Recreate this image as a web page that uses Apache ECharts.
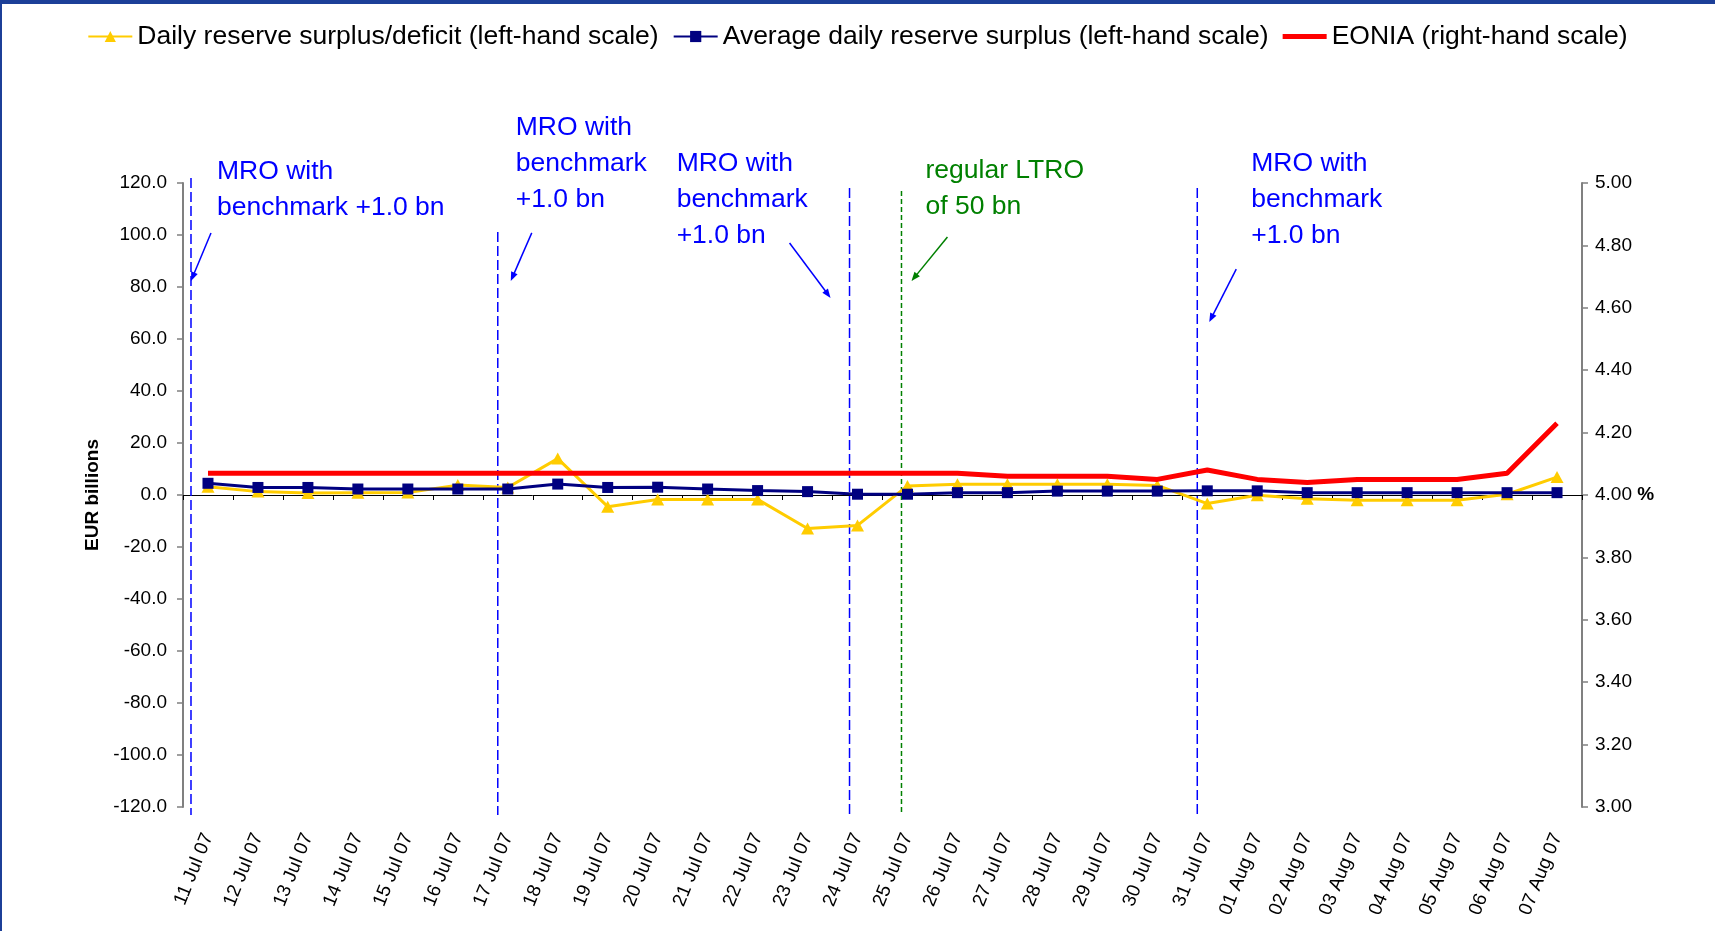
<!DOCTYPE html>
<html>
<head>
<meta charset="utf-8">
<script src="https://cdn.jsdelivr.net/npm/echarts@6/dist/echarts.min.js"></script>
<style>
html,body{margin:0;padding:0;background:#fff;}
#chart{width:1715px;height:931px;}
</style>
</head>
<body>
<div id="chart"></div>
<script>
// ---- data ----
const categories = ['11 Jul 07','12 Jul 07','13 Jul 07','14 Jul 07','15 Jul 07','16 Jul 07','17 Jul 07','18 Jul 07','19 Jul 07','20 Jul 07','21 Jul 07','22 Jul 07','23 Jul 07','24 Jul 07','25 Jul 07','26 Jul 07','27 Jul 07','28 Jul 07','29 Jul 07','30 Jul 07','31 Jul 07','01 Aug 07','02 Aug 07','03 Aug 07','04 Aug 07','05 Aug 07','06 Aug 07','07 Aug 07'];
const dailySurplus = [3.2, 1.3, 0.8, 0.9, 1.0, 3.8, 2.9, 14.0, -4.5, -1.7, -1.7, -1.7, -12.9, -11.7, 3.5, 4.1, 4.1, 4.1, 4.1, 3.7, -3.3, -0.1, -1.4, -2.0, -2.0, -2.0, 0.3, 6.9];
const avgSurplus = [4.5, 2.9, 2.9, 2.3, 2.3, 2.3, 2.3, 4.2, 2.9, 3.0, 2.3, 1.7, 1.3, 0.3, 0.3, 0.9, 0.9, 1.5, 1.5, 1.5, 1.6, 1.6, 0.9, 0.9, 0.9, 0.9, 0.9, 0.9];
const eonia = [4.07,4.07,4.07,4.07,4.07,4.07,4.07,4.07,4.07,4.07,4.07,4.07,4.07,4.07,4.07,4.07,4.06,4.06,4.06,4.05,4.08,4.05,4.04,4.05,4.05,4.05,4.07,4.23];
const seriesNames = ['Daily reserve surplus/deficit (left-hand scale)','Average daily reserve surplus (left-hand scale)','EONIA (right-hand scale)'];
const leftAxis = {min:-120, max:120, interval:20};
const rightAxis = {min:3, max:5, interval:0.2};

// ---- annotations (category-index x, left-scale y) ----
const vLines = [[-0.34,121.9,-123.1],[5.8,101.2,-123.1],[12.84,118.1,-123.1],[13.88,116.9,-123.1],[19.8,118.1,-123.1]];
const vLineKind = ['mro','mro','mro','ltro','mro'];
const arrows = [[0.06,100.8,-0.34,82.3],[6.48,100.8,6.06,82.3],[11.64,96.9,12.46,75.8],[14.8,99.2,14.08,82.3],[20.58,86.9,20.04,66.5]];
const arrowKind = ['mro','mro','mro','ltro','mro'];
const notes = [[0.18,131.2],[6.16,148.1],[9.38,134.2],[14.36,131.5],[20.88,134.2]];
const noteText = ['MRO with\nbenchmark +1.0 bn','MRO with\nbenchmark\n+1.0 bn','MRO with\nbenchmark\n+1.0 bn','regular LTRO\nof 50 bn','MRO with\nbenchmark\n+1.0 bn'];
const noteKind = ['mro','mro','mro','ltro','mro'];
const kindColor = {mro:'#0000FF', ltro:'#008000'};
const kindDash = {mro:[10,4], ltro:[5,3]};

const FONT = '"Liberation Sans", Arial, sans-serif';
const chart = echarts.init(document.getElementById('chart'), null, {renderer:'canvas'});

const option = {
  animation:false,
  backgroundColor:'#ffffff',
  textStyle:{fontFamily:FONT},
  graphic:[
    {type:'rect', shape:{x:0,y:0,width:1715,height:4}, style:{fill:'#1c3f98'}},
    {type:'rect', shape:{x:0,y:0,width:2,height:931}, style:{fill:'#1c3f98'}}
  ],
  legend:{
    top:18, left:'center',
    itemWidth:44, itemHeight:14, itemGap:14, symbolKeepAspect:true,
    textStyle:{fontSize:26.5, color:'#000', fontFamily:FONT},
    data:[seriesNames[0], seriesNames[1], {name:seriesNames[2], icon:'path://M0,0 L44,0 L44,5 L0,5 Z'}]
  },
  grid:{left:183, right:133, top:183, bottom:124, containLabel:false},
  xAxis:[
    {type:'category', data:categories, position:'bottom', boundaryGap:true,
     axisLine:{show:false, onZero:false}, axisTick:{show:false},
     axisLabel:{rotate:68, fontSize:19, color:'#000', margin:27, interval:0, fontFamily:FONT},
     splitLine:{show:false}},
    {type:'category', data:categories, position:'bottom', boundaryGap:true,
     axisLine:{show:true, onZero:true, onZeroAxisIndex:0, lineStyle:{color:'#000', width:1}},
     axisTick:{show:true, length:5, lineStyle:{color:'#000'}, interval:0},
     axisLabel:{show:false}, splitLine:{show:false}},
    {type:'value', min:-0.5, max:27.5, show:false}
  ],
  yAxis:[
    {type:'value', position:'left', min:leftAxis.min, max:leftAxis.max, interval:leftAxis.interval,
     name:'EUR billions', nameLocation:'middle', nameRotate:90, nameGap:70,
     nameTextStyle:{fontSize:19, fontWeight:'bold', color:'#000', fontFamily:FONT},
     axisLine:{show:true, onZero:false, lineStyle:{color:'#808080', width:2}},
     axisTick:{show:true, length:6, lineStyle:{color:'#808080', width:1.5}},
     axisLabel:{fontSize:19, color:'#000', margin:16, formatter:v=>v.toFixed(1), fontFamily:FONT},
     splitLine:{show:false}},
    {type:'value', position:'right', min:rightAxis.min, max:rightAxis.max, interval:rightAxis.interval,
     axisLine:{show:true, onZero:false, lineStyle:{color:'#808080', width:2}},
     axisTick:{show:true, length:6, lineStyle:{color:'#808080', width:1.5}},
     axisLabel:{fontSize:19, color:'#000', margin:13, fontFamily:FONT,
       formatter:v=> Math.abs(v-4)<1e-9 ? '{n|4.00} {p|%}' : v.toFixed(2),
       rich:{n:{fontSize:19, color:'#000', fontFamily:FONT}, p:{fontSize:19, fontWeight:'bold', color:'#000', fontFamily:FONT}}},
     splitLine:{show:false}}
  ],
  series:[
    {type:'custom', name:'vlines', xAxisIndex:2, yAxisIndex:0, silent:true, z:1,
     data:vLines,
     renderItem:(params, api)=>{
       const k = vLineKind[params.dataIndex];
       const p1 = api.coord([api.value(0), api.value(1)]);
       const p2 = api.coord([api.value(0), api.value(2)]);
       return {type:'line', shape:{x1:p1[0],y1:p1[1],x2:p2[0],y2:p2[1]},
               style:{stroke:kindColor[k], lineWidth:1.5, lineDash:kindDash[k]}};
     }},
    {type:'custom', name:'arrows', xAxisIndex:2, yAxisIndex:0, silent:true, z:1,
     data:arrows,
     renderItem:(params, api)=>{
       const k = arrowKind[params.dataIndex];
       const a = api.coord([api.value(0), api.value(1)]);
       const b = api.coord([api.value(2), api.value(3)]);
       const dx=b[0]-a[0], dy=b[1]-a[1], len=Math.sqrt(dx*dx+dy*dy);
       const ux=dx/len, uy=dy/len, nx=-uy, ny=ux, L=9, W=3.5;
       const base=[b[0]-ux*L, b[1]-uy*L];
       return {type:'group', children:[
         {type:'line', shape:{x1:a[0],y1:a[1],x2:base[0]+ux*2,y2:base[1]+uy*2}, style:{stroke:kindColor[k], lineWidth:1.5}},
         {type:'polygon', shape:{points:[[b[0],b[1]],[base[0]+nx*W,base[1]+ny*W],[base[0]-nx*W,base[1]-ny*W]]}, style:{fill:kindColor[k]}}
       ]};
     }},
    {type:'custom', name:'notes', xAxisIndex:2, yAxisIndex:0, silent:true, z:1,
     data:notes,
     renderItem:(params, api)=>{
       const i = params.dataIndex;
       const p = api.coord([api.value(0), api.value(1)]);
       return {type:'text', x:p[0], y:p[1],
               style:{text:noteText[i], fill:kindColor[noteKind[i]], font:'26.5px ' + FONT,
                      align:'left', verticalAlign:'top', lineHeight:36}};
     }},
    {type:'line', name:seriesNames[0], xAxisIndex:0, yAxisIndex:0, data:dailySurplus, z:3,
     color:'#FFCC00', symbol:'triangle', symbolSize:[13,12], showAllSymbol:true,
     lineStyle:{color:'#FFCC00', width:3}, itemStyle:{color:'#FFCC00'}},
    {type:'line', name:seriesNames[1], xAxisIndex:0, yAxisIndex:0, data:avgSurplus, z:4,
     color:'#000080', symbol:'rect', symbolSize:11, showAllSymbol:true,
     lineStyle:{color:'#000080', width:3}, itemStyle:{color:'#000080'}},
    {type:'line', name:seriesNames[2], xAxisIndex:0, yAxisIndex:1, data:eonia, z:5,
     color:'#FF0000', symbol:'none',
     lineStyle:{color:'#FF0000', width:5}, itemStyle:{color:'#FF0000'}}
  ]
};
chart.setOption(option);
</script>
</body>
</html>
